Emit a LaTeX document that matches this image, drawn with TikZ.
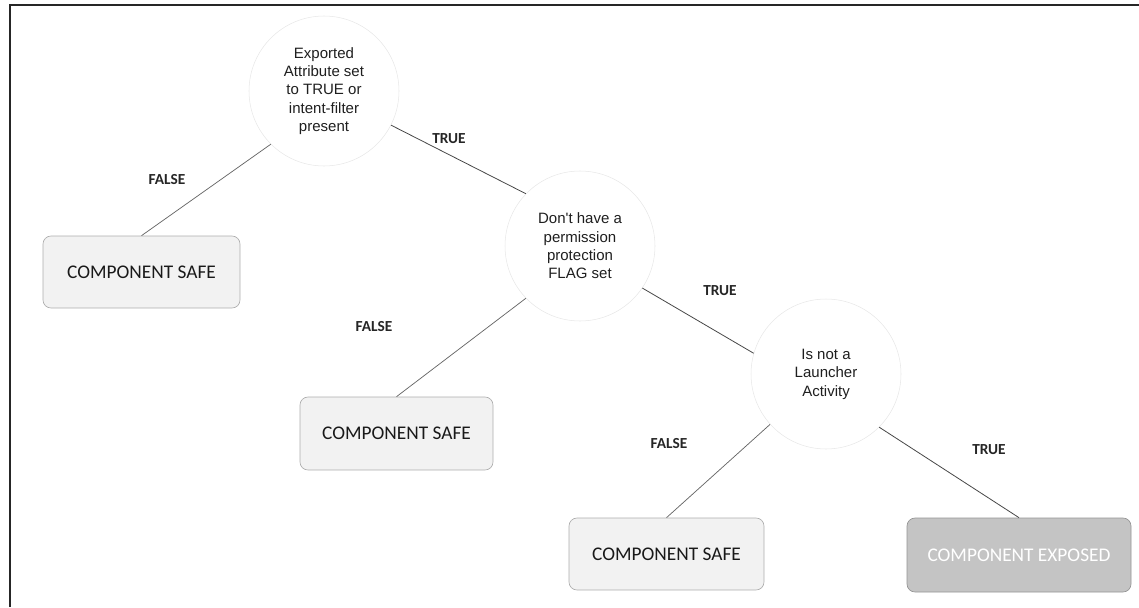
\documentclass[tikz,border=0pt]{standalone}
\usepackage{fontspec}
\newfontfamily\questionfont{Liberation Sans}
\newfontfamily\boxfont{Carlito}
\tikzset{
  decision/.style={circle, draw=black!9, fill=white, minimum size=112.5pt,
    inner sep=0pt, align=center, text=black!88,
    font=\questionfont\fontsize{11.25}{13.8}\selectfont},
  outcome/.style={rectangle, rounded corners=6pt, draw=black!32, line width=0.5pt,
    inner sep=0pt, font=\boxfont\fontsize{14.5}{17}\selectfont},
  safe/.style={outcome, fill=black!5, text=black!90},
  exposed/.style={outcome, fill=black!23, draw=black!42, text=white},
  branch/.style={font=\boxfont\bfseries\fontsize{11.5}{13}\selectfont, text=black!85},
  edge/.style={draw=black!72, line width=0.6pt},
  noedge/.style={draw=black!60, line width=0.55pt},
}
\begin{document}
\begin{tikzpicture}[x=0.75pt, y=-0.75pt]
  \useasboundingbox (0,0) rectangle (1139,607);
  % page frame (top and left rules)
  \draw[line width=1.4pt, black!85] (10,607) -- (10,5) -- (1139,5);

  % decision circles
  \node[decision] (q1) at (324,91) {Exported\\Attribute set\\to TRUE or\\intent-filter\\present};
  \node[decision] (q2) at (580,246) {Don't have a\\permission\\protection\\FLAG set};
  \node[decision] (q3) at (826,374) {Is not a\\Launcher\\Activity};

  % outcomes
  \node[safe, minimum width=147.75pt, minimum height=54pt] (s1) at (141.5,272) {COMPONENT SAFE};
  \node[safe, minimum width=144.75pt, minimum height=54.75pt] (s2) at (396.5,433.5) {COMPONENT SAFE};
  \node[safe, minimum width=146.25pt, minimum height=54pt] (s3) at (666.5,554) {COMPONENT SAFE};
  \node[exposed, minimum width=168pt, minimum height=55.5pt] (s4) at (1019,555) {COMPONENT EXPOSED};

  % connectors
  \draw[noedge] (q1.225) -- (s1.north);
  \draw[edge] (q1.333) -- (q2.136);
  \draw[noedge] (q2.224) -- (s2.north);
  \draw[edge] (q2.326) -- (q3.164);
  \draw[noedge] (q3.222) -- (s3.north);
  \draw[edge] (q3.315) -- (s4.north);

  % branch labels
  \node[branch] (f1) at (167,180) {FALSE};
  \node[branch] (t1) at (449,139) {TRUE};
  \node[branch] (f2) at (374,327) {FALSE};
  \node[branch] (t2) at (720,291) {TRUE};
  \node[branch] (f3) at (669,444) {FALSE};
  \node[branch] (t3) at (989,450) {TRUE};
\end{tikzpicture}
\end{document}
